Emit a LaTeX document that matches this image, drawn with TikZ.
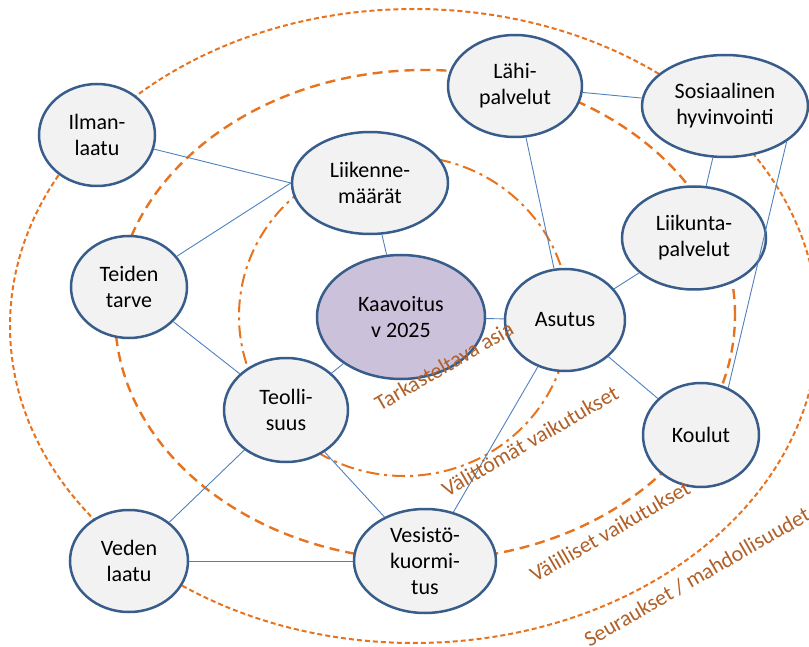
\documentclass[tikz,border=0pt]{standalone}
\usepackage{fontspec}
\setmainfont{Carlito}
\definecolor{nodefill}{RGB}{242,242,242}
\definecolor{nodeborder}{RGB}{56,93,138}
\definecolor{mainfill}{RGB}{204,193,218}
\definecolor{linkcol}{RGB}{79,129,189}
\definecolor{ringcol}{RGB}{232,115,30}
\definecolor{labcol}{RGB}{176,96,40}
\tikzset{
  bubble/.style={ellipse, draw=nodeborder, line width=2.5pt, fill=nodefill, inner sep=0pt, align=center, font=\fontsize{22}{26}\selectfont, text=black},
  link/.style={draw=linkcol, line width=0.9pt},
  ringA/.style={draw=ringcol, line width=2pt, dash pattern=on 13pt off 5pt on 3pt off 5pt},
  ringB/.style={draw=ringcol, line width=2.4pt, dash pattern=on 10pt off 6pt},
  ringC/.style={draw=ringcol, line width=2pt, dash pattern=on 5pt off 3pt},
  ringlabel/.style={text=labcol, font=\fontsize{22}{26}\selectfont, rotate=30, inner sep=0pt}
}
\usetikzlibrary{shapes.geometric}
\begin{document}
\begin{tikzpicture}[x=1pt,y=-1pt]
\useasboundingbox (0,0) rectangle (809,647);
% rings
\draw[ringC] (414,326) ellipse [x radius=404pt, y radius=317pt];
\draw[ringB] (425,315) ellipse [x radius=310pt, y radius=245pt];
\draw[ringA] (404,316) ellipse [x radius=165pt, y radius=160pt];
% nodes
\node[bubble, minimum width=116pt, minimum height=102pt] (ilma) at (97,135) {Ilman-\\laatu};
\node[bubble, minimum width=156pt, minimum height=102pt] (liik) at (370,183) {Liikenne-\\määrät};
\node[bubble, minimum width=134pt, minimum height=102pt] (lahi) at (515,86) {Lähi-\\palvelut};
\node[bubble, minimum width=166pt, minimum height=102pt] (sosi) at (725,106) {Sosiaalinen\\hyvinvointi};
\node[bubble, minimum width=144pt, minimum height=103pt] (liiku) at (694,238) {Liikunta-\\palvelut};
\node[bubble, minimum width=116pt, minimum height=102pt] (teid) at (129,287) {Teiden\\tarve};
\node[bubble, fill=mainfill, minimum width=168pt, minimum height=124pt] (kaav) at (401,317) {Kaavoitus\\v 2025};
\node[bubble, minimum width=120pt, minimum height=102pt] (asut) at (565,320) {Asutus};
\node[bubble, minimum width=124pt, minimum height=104pt] (teol) at (286,410) {Teolli-\\suus};
\node[bubble, minimum width=116pt, minimum height=104pt] (koul) at (701,435) {Koulut};
\node[bubble, minimum width=118pt, minimum height=102pt] (vede) at (129,561) {Veden\\laatu};
\node[bubble, minimum width=142pt, minimum height=104pt] (vesi) at (425,561) {Vesistö-\\kuormi-\\tus};
% connectors
\draw[link] (ilma) -- (liik.west);
\draw[link] (teid) -- (liik.west);
\draw[link] (liik) -- (kaav);
\draw[link] (teid) -- (teol);
\draw[link] (teol) -- (kaav);
\draw[link] (kaav) -- (asut);
\draw[link] (lahi) -- (asut);
\draw[link] (lahi) -- (sosi);
\draw[link] (sosi) -- (liiku);
\draw[link] (sosi.-30) -- (koul.60);
\draw[link] (liiku) -- (asut);
\draw[link] (asut) -- (koul);
\draw[link] (asut) -- (vesi);
\draw[link] (teol) -- (vesi);
\draw[link] (teol) -- (vede);
\draw[link] (vede) -- (vesi);
% ring labels
\node[ringlabel] (l1) at (444,366) {Tarkasteltava asia};
\node[ringlabel] (l2) at (530,441) {Välittömät vaikutukset};
\node[ringlabel] (l3) at (610,531) {Välilliset vaikutukset};
\node[ringlabel] (l4) at (697,577) {Seuraukset / mahdollisuudet};
\end{tikzpicture}
\end{document}
